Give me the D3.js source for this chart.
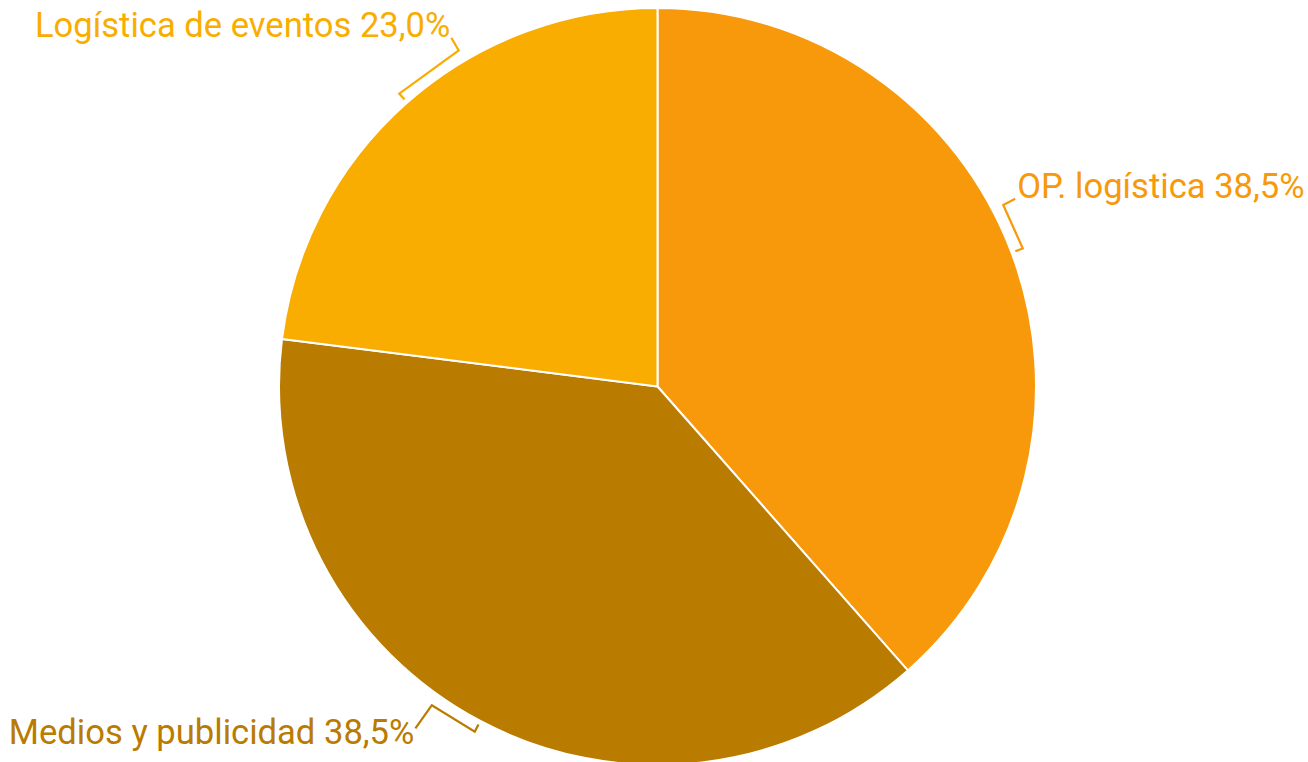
<!DOCTYPE html>
<html><head><meta charset="utf-8">
<script src="https://cdn.jsdelivr.net/npm/d3@7"></script>
<style>html,body{margin:0;padding:0;background:#fff;overflow:hidden}</style>
</head><body>
<svg id="chart" width="1308" height="762"></svg>
<script>
const categories = ["OP. logística", "Medios y publicidad", "Logística de eventos"];
const values = [38.5, 38.5, 23.0];
const colors = ["#F7990A", "#B97B00", "#F9AD00"];
// leader layout (degrees offset from slice mid angle, radius of label anchor)
const leaderOffsetDeg = [-7, 7.4, 10.8];
const labelRadius = [404, 419, 405];
const labelAnchor = ["start", "end", "end"];
const labelDy = [-1, 16, -1];

const svg = d3.select("#chart");
const cx = 657.5, cy = 386.5, R = 378.5;
const g = svg.append("g").attr("transform", `translate(${cx},${cy})`);

const data = categories.map((c, i) => ({cat: c, value: values[i], color: colors[i], i}));
const pie = d3.pie().value(d => d.value).sort(null);
const arcs = pie(data);
const arc = d3.arc().innerRadius(0).outerRadius(R);

g.selectAll("path.slice").data(arcs).enter().append("path")
  .attr("class", "slice")
  .attr("d", arc)
  .attr("fill", d => d.data.color)
  .attr("stroke", "#fff")
  .attr("stroke-width", 2)
  .attr("stroke-linejoin", "round");

const pt = (a, r) => [r * Math.sin(a), -r * Math.cos(a)];
const fmt = v => v.toFixed(1).replace(".", ",") + "%";

arcs.forEach((d, k) => {
  const mid = (d.startAngle + d.endAngle) / 2;
  const a2 = mid + leaderOffsetDeg[k] * Math.PI / 180;
  const p0 = pt(mid, R + 4);
  const p1 = pt(mid, R + 12);
  const p2 = pt(a2, R + 12);
  const p3 = pt(a2, labelRadius[k]);
  g.append("path")
    .attr("d", d3.line()([p0, p1, p2, p3]))
    .attr("fill", "none")
    .attr("stroke", d.data.color)
    .attr("stroke-width", 2.2);
  g.append("text")
    .attr("x", p3[0] + (labelAnchor[k] === "start" ? 2 : -1))
    .attr("y", p3[1] + labelDy[k])
    .attr("text-anchor", labelAnchor[k])
    .attr("font-family", "Roboto, sans-serif")
    .attr("font-size", 34.6)
    .attr("fill", d.data.color)
    .text(`${d.data.cat} ${fmt(d.data.value)}`);
});
</script>
</body></html>
